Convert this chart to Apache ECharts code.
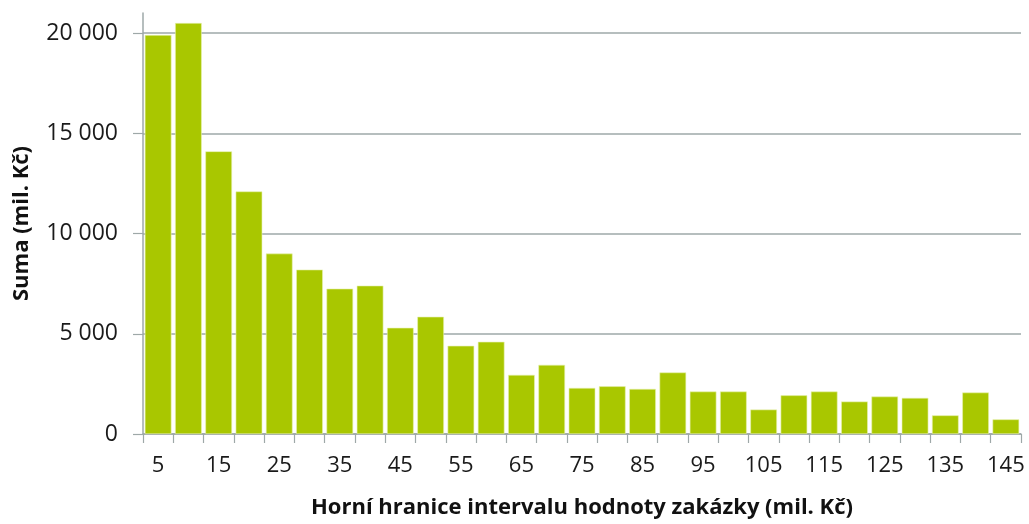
<!DOCTYPE html>
<html>
<head>
<meta charset="utf-8">
<script src="https://cdn.jsdelivr.net/npm/echarts@6/dist/echarts.min.js"></script>
<style>
html,body{margin:0;padding:0;background:#fff;}
#chart{width:1029px;height:524px;}
</style>
</head>
<body>
<div id="chart"></div>
<script>
const categories = ['5','10','15','20','25','30','35','40','45','50','55','60','65','70','75','80','85','90','95','100','105','110','115','120','125','130','135','140','145'];
const sums = [19900,20500,14100,12100,9000,8200,7250,7400,5300,5850,4400,4600,2950,3450,2300,2380,2250,3070,2120,2120,1220,1930,2120,1620,1870,1800,930,2070,730];
const yTicks = [0,5000,10000,15000,20000];
const xTitle = 'Horní hranice intervalu hodnoty zakázky (mil. Kč)';
const yTitle = 'Suma (mil. Kč)';

const FONT = '"Open Sans", "Liberation Sans", sans-serif';
const GRAY = '#9ea8a8';

const chart = echarts.init(document.getElementById('chart'), null, {renderer:'canvas'});
chart.setOption({
  animation: false,
  grid: {left: 143, right: 8, top: 13, bottom: 88, containLabel: false},
  xAxis: {
    type: 'category',
    data: categories,
    boundaryGap: true,
    name: xTitle,
    nameLocation: 'middle',
    nameGap: 63,
    nameTextStyle: {fontFamily: FONT, fontWeight: 'bold', fontSize: 22, color: '#111'},
    axisLine: {lineStyle: {color: GRAY, width: 1.5}},
    axisTick: {show: true, interval: 0, length: 9, lineStyle: {color: GRAY, width: 1.2}},
    axisLabel: {interval: 1, margin: 21, fontFamily: FONT, fontSize: 22, color: '#1a1a1a'},
    splitLine: {show: false}
  },
  yAxis: {
    type: 'value',
    min: 0,
    max: 21000,
    interval: 5000,
    name: yTitle,
    nameLocation: 'middle',
    nameGap: 110,
    nameRotate: 90,
    nameTextStyle: {fontFamily: FONT, fontWeight: 'bold', fontSize: 22, color: '#111'},
    axisLine: {show: true, lineStyle: {color: GRAY, width: 1.5}},
    axisTick: {show: true, length: 10, customValues: yTicks, lineStyle: {color: GRAY, width: 1.2}},
    axisLabel: {
      customValues: yTicks,
      margin: 25, fontFamily: FONT, fontSize: 23, color: '#1a1a1a',
      formatter: function (v) {
        const s = String(Math.round(v));
        return s.replace(/\B(?=(\d{3})+(?!\d))/g, ' ');
      }
    },
    splitLine: {show: true, lineStyle: {color: GRAY, width: 1.5}}
  },
  series: [{
    type: 'bar',
    data: sums,
    barCategoryGap: '12%',
    itemStyle: {color: '#a9c700', borderColor: '#e8f2b0', borderWidth: 0.6}
  }]
});
</script>
</body>
</html>
